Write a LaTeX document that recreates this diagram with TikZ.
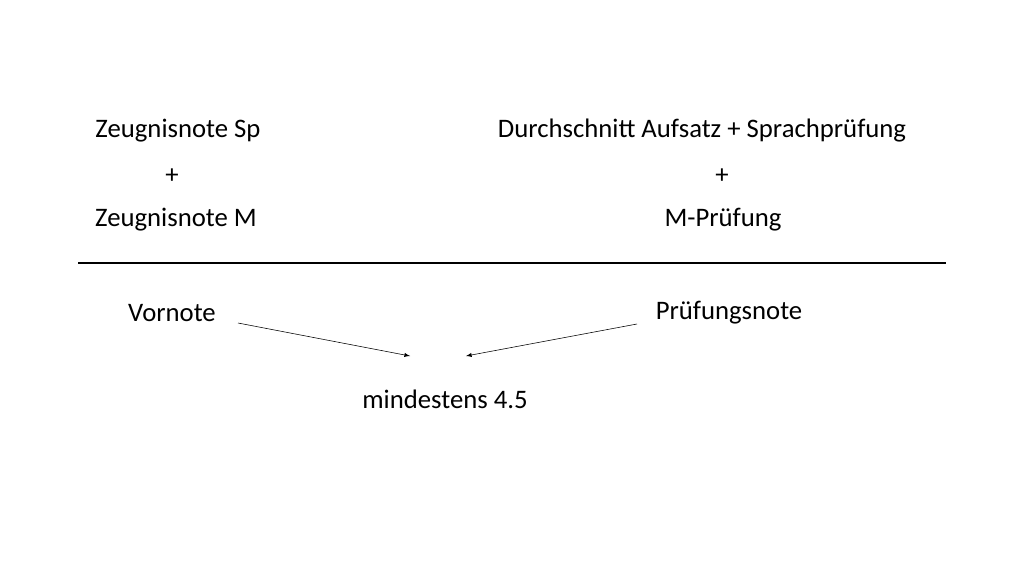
\documentclass[tikz,border=0pt]{standalone}
\usepackage{fontspec}
\setmainfont{Carlito}
\usetikzlibrary{arrows}

\begin{document}
\begin{tikzpicture}[
	x=0.025cm,y=-0.025cm,
	txt/.style={
		inner sep=0pt,
		font=\fontsize{19}{23}\selectfont
	},
	>=latex
	]
	\useasboundingbox (0,0) rectangle (1024,576);
	\node[txt] (sp) at (178,131) {Zeugnisnote Sp};
	\node[txt] (pl1) at (172,176) {+};
	\node[txt] (m) at (176,220) {Zeugnisnote M};
	\node[txt] (avg) at (702,131) {Durchschnitt Aufsatz + Sprachprüfung};
	\node[txt] (pl2) at (722,176) {+};
	\node[txt] (mp) at (723,220) {M-Prüfung};
	\coordinate (bl) at (78,263);
	\coordinate (br) at (946,263);
	\draw[line width=1.6pt] (bl) -- (br);
	\node[txt] (vn) at (172,313) {Vornote};
	\node[txt] (pn) at (729,313) {Prüfungsnote};
	\node[txt] (min) at (445,399) {mindestens 4.5};
	\coordinate (a1) at (238,323);
	\coordinate (e1) at (410,356);
	\coordinate (a2) at (637,324);
	\coordinate (e2) at (466,356);
	\draw[->] (a1) -- (e1);
	\draw[->] (a2) -- (e2);
\end{tikzpicture}
\end{document}
